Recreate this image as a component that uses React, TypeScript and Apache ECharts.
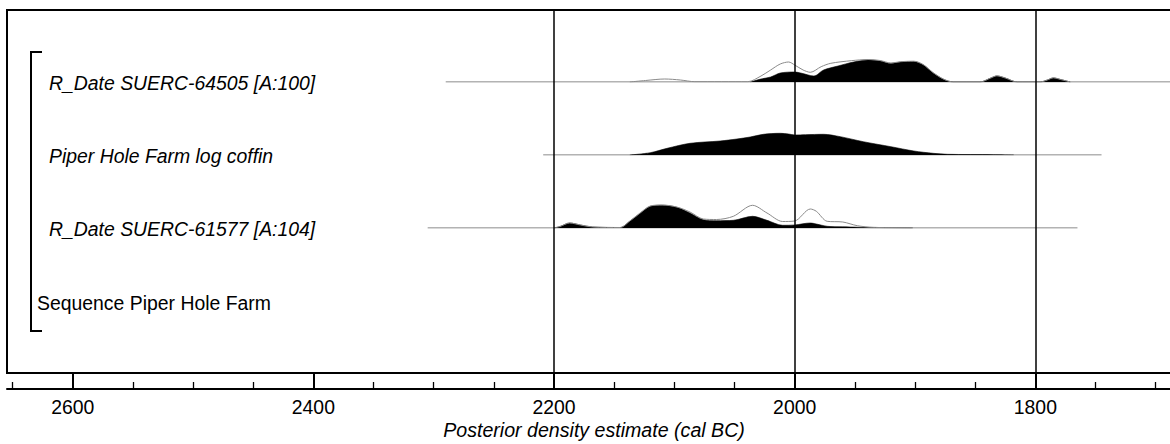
import React, { useEffect, useRef } from "react";
import * as echarts from "echarts";

// ---- text ----
const rowLabels = [
  "R_Date SUERC-64505 [A:100]",
  "Piper Hole Farm log coffin",
  "R_Date SUERC-61577 [A:104]",
];
const sequenceLabel = "Sequence Piper Hole Farm";
const axisTitle = "Posterior density estimate (cal BC)";

// ---- axis ----
const majorTicks = [2600, 2400, 2200, 2000, 1800];
const minorTicks = [2650, 2550, 2500, 2450, 2350, 2300, 2250, 2150, 2100, 2050, 1950, 1900, 1850, 1750, 1700];
const gridYears = [2200, 2000, 1800];

// ---- row 1: R_Date SUERC-64505 ----
const r1Range = [2290, 1670];
const r1PostYears = [2037, 2028, 2020, 2012, 2000, 1995, 1984, 1976, 1964, 1951, 1939, 1929, 1920, 1912, 1901, 1893, 1885, 1876, 1868, 1846, 1837, 1832, 1825, 1815, 1796, 1790, 1785, 1779, 1771];
const r1Post = [0, 3, 5, 9, 10, 9, 6, 12, 16, 20, 22, 21, 18.5, 20, 20.5, 17, 9, 2.5, 0, 0, 4, 6, 4, 0, 0, 2, 4, 2.5, 0];
const r1LikeYears = [2137, 2124, 2108, 2095, 2083, 2039, 2028, 2020, 2012, 2005, 2000, 1993, 1987, 1978, 1970, 1953, 1939, 1929, 1920, 1912, 1901, 1893, 1885, 1876, 1868, 1846, 1837, 1832, 1825, 1815, 1796, 1790, 1785, 1779, 1771];
const r1Like = [0, 1.5, 3, 2, 0.3, 0.3, 6, 12, 18, 20, 17, 12, 9.7, 15.3, 18.7, 21.3, 22.5, 21.5, 19, 20.3, 20.8, 17.3, 9.5, 2.7, 0, 0, 4, 6.2, 4, 0, 0, 2, 4.2, 2.5, 0];

// ---- row 2: Piper Hole Farm log coffin ----
const r2Range = [2209, 1745];
const r2PostYears = [2137, 2120, 2106, 2087, 2062, 2048, 2037, 2026, 2012, 2005, 2000, 1991, 1976, 1962, 1943, 1920, 1901, 1885, 1873, 1835, 1818];
const r2Post = [0, 2.3, 6.7, 11.7, 14, 16, 18, 20.7, 21.7, 21, 20, 20.3, 20.7, 18.3, 13.3, 8.3, 4, 1.7, 0.7, 0.3, 0];

// ---- row 3: R_Date SUERC-61577 ----
const r3Range = [2305, 1765];
const r3PostYears = [2200, 2195, 2187, 2178, 2168, 2145, 2137, 2128, 2120, 2110, 2098, 2087, 2076, 2065, 2051, 2035, 2023, 2010, 2000, 1987, 1982, 1973, 1960, 1948, 1935, 1902];
const r3Post = [0, 1.5, 5, 3, 1, 0.5, 6.7, 15, 21.7, 22.7, 20.7, 15, 8.3, 7.3, 7.7, 11.7, 7.7, 2.7, 3, 5, 4, 1.7, 1.2, 0.8, 0.3, 0];
const r3LikeYears = [2200, 2195, 2187, 2178, 2168, 2145, 2137, 2128, 2120, 2110, 2098, 2087, 2076, 2065, 2051, 2035, 2023, 2010, 2000, 1987, 1982, 1973, 1960, 1948, 1935, 1902];
const r3Like = [0, 1.5, 5, 3, 1, 0.5, 7, 15.5, 22, 23, 21, 16, 9, 8.5, 11.7, 22.7, 15, 6.5, 7, 19, 16.7, 6.7, 6, 2.3, 0.7, 0];

const X_MIN = 1688.1;
const X_MAX = 2654.6;
const FONT = "Arial, 'Liberation Sans', sans-serif";
const FS = 19.4;

const zip = (xs: number[], ys: number[]) => xs.map((x, i) => [x, ys[i]]);

export default function App() {
  const ref = useRef<HTMLDivElement>(null);
  useEffect(() => {
    if (!ref.current) return;
    const chart = echarts.init(ref.current, null, { renderer: "svg" });

    const baselines = [82, 155, 228];
    const rowH = 25;
    const rows = [
      { range: r1Range, post: zip(r1PostYears, r1Post), like: zip(r1LikeYears, r1Like) },
      { range: r2Range, post: zip(r2PostYears, r2Post), like: null },
      { range: r3Range, post: zip(r3PostYears, r3Post), like: zip(r3LikeYears, r3Like) },
    ];

    // grid 0: plot box (for vertical lines)
    const grids: any[] = [{ left: 7, right: 0, top: 10, bottom: 71, show: false }];
    const xAxes: any[] = [
      { type: "value", gridIndex: 0, inverse: true, min: X_MIN, max: X_MAX, show: false },
    ];
    const yAxes: any[] = [{ type: "value", gridIndex: 0, min: 0, max: 1, show: false }];
    const series: any[] = [
      {
        type: "line", xAxisIndex: 0, yAxisIndex: 0, data: [[X_MAX, 0]], showSymbol: false,
        lineStyle: { opacity: 0 },
        markLine: {
          silent: true, symbol: ["none", "none"], label: { show: false },
          lineStyle: { color: "#000", width: 1.5, type: "solid" },
          data: gridYears.map((v) => ({ xAxis: v })),
        },
      },
    ];

    // grids 1..3: density rows
    rows.forEach((row, i) => {
      const gi = i + 1;
      grids.push({ left: 7, right: 0, top: baselines[i] - rowH, height: rowH, show: false });
      xAxes.push({ type: "value", gridIndex: gi, inverse: true, min: X_MIN, max: X_MAX, show: false });
      yAxes.push({ type: "value", gridIndex: gi, min: 0, max: rowH, show: false });
      series.push({
        type: "line", xAxisIndex: gi, yAxisIndex: gi, z: 1,
        data: [[row.range[0], 0], [row.range[1], 0]], showSymbol: false,
        lineStyle: { color: "#666", width: 1 },
      });
      series.push({
        type: "line", xAxisIndex: gi, yAxisIndex: gi, z: 2,
        data: row.post, showSymbol: false, smooth: 0.3,
        lineStyle: { color: "#000", width: 0.6 },
        areaStyle: { color: "#000", opacity: 1 },
      });
      if (row.like) {
        series.push({
          type: "line", xAxisIndex: gi, yAxisIndex: gi, z: 3,
          data: row.like, showSymbol: false, smooth: 0.3,
          lineStyle: { color: "#8a8a8a", width: 1 },
        });
      }
    });

    // grid 4: main axis with major ticks and labels
    grids.push({ left: 7, right: 0, top: 10, bottom: 55, show: false });
    xAxes.push({
      type: "value", gridIndex: 4, inverse: true, min: X_MIN, max: X_MAX, position: "bottom",
      axisLine: { show: true, lineStyle: { color: "#000", width: 2 } },
      axisTick: { show: true, inside: true, length: 16, customValues: majorTicks, lineStyle: { color: "#000", width: 2 } },
      axisLabel: {
        show: true, customValues: majorTicks, margin: 8, color: "#000", fontSize: FS, fontFamily: FONT,
        formatter: (v: number) => String(v),
      },
      splitLine: { show: false },
    });
    yAxes.push({ type: "value", gridIndex: 4, min: 0, max: 1, show: false });

    // grid 5: minor ticks
    grids.push({ left: 7, right: 0, top: 10, bottom: 55, show: false });
    xAxes.push({
      type: "value", gridIndex: 5, inverse: true, min: X_MIN, max: X_MAX, position: "bottom",
      axisLine: { show: false },
      axisTick: { show: true, inside: true, length: 7, customValues: minorTicks, lineStyle: { color: "#000", width: 1.3 } },
      axisLabel: { show: false },
      splitLine: { show: false },
    });
    yAxes.push({ type: "value", gridIndex: 5, min: 0, max: 1, show: false });

    const labelY = [83, 156, 229];
    const graphic: any[] = [
      { type: "polyline", silent: true, shape: { points: [[1170, 10], [7, 10], [7, 373], [1170, 373]] }, style: { stroke: "#000", lineWidth: 2, fill: null } },
      { type: "polyline", silent: true, shape: { points: [[42, 52], [31, 52], [31, 331], [42, 331]] }, style: { stroke: "#000", lineWidth: 2, fill: null } },
      ...rowLabels.map((t, i) => ({
        type: "text", x: 49, y: labelY[i], silent: true,
        style: { text: t, fill: "#000", fontSize: FS, fontStyle: "italic", fontFamily: FONT, verticalAlign: "middle", align: "left" },
      })),
      {
        type: "text", x: 37, y: 303, silent: true,
        style: { text: sequenceLabel, fill: "#000", fontSize: FS, fontFamily: FONT, verticalAlign: "middle", align: "left" },
      },
      {
        type: "text", x: 594, y: 430, silent: true,
        style: { text: axisTitle, fill: "#000", fontSize: 19.6, fontStyle: "italic", fontFamily: FONT, verticalAlign: "middle", align: "center" },
      },
    ];

    chart.setOption({
      animation: false,
      backgroundColor: "#fff",
      grid: grids,
      xAxis: xAxes,
      yAxis: yAxes,
      series,
      graphic,
    });
    return () => chart.dispose();
  }, []);
  return <div ref={ref} style={{ position: "fixed", left: 0, top: 0, width: 1170, height: 444 }} />;
}
